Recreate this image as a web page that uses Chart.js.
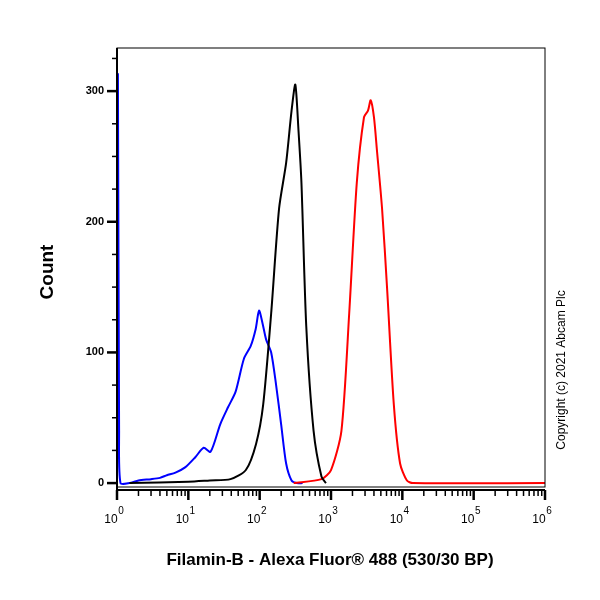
<!DOCTYPE html>
<html><head><script src="https://cdn.jsdelivr.net/npm/chart.js"></script>
<style>body{margin:0;background:#fff}#w{width:600px;height:600px}</style></head>
<body><div id="w"><canvas id="c"></canvas></div>
<script>
const blueX=[1.0,1.03,1.07,1.12,1.5,2,3,4,5,6.6,9,12.6,16.4,20.5,28,36,46,60,75,88,98,110,123,145,170,200,235,280,330,400];
const blueY=[0,313,40,0,0,2,3,4,6,8,12,20,27,24,45,58,70,95,105,118,132,122,110,100,75,45,15,2,0,0];
const blackX=[1.5,10,20,39,64,89,112,145,187,235,280,316,350,385,450,570,735,850];
const blackY=[0,1,2,3,10,30,60,130,210,245,285,305,270,230,120,40,5,0];
const redX=[300,735,1000,1400,1800,2300,2900,3300,3600,4000,4400,5200,6100,7600,9300,11600,14000,1e6];
const redY=[0,3,10,40,130,230,280,285,293,280,255,210,150,60,15,2,0,0];
const xTicks=[1,10,100,1000,10000,100000,1000000];
const yTicks=[0,100,200,300];
const pts=(xs,ys)=>xs.map((x,i)=>({x,y:ys[i]}));
const ds=(xs,ys,c)=>({data:pts(xs,ys),borderColor:c,borderWidth:2,pointRadius:0,showLine:true,tension:0.25,fill:false});
const deco={id:'deco',afterDraw(ch){
 const c=ch.ctx,a=ch.chartArea,xs=ch.scales.x,ys=ch.scales.y;
 c.save();c.strokeStyle='#000';c.lineWidth=1;c.strokeRect(a.left,a.top,a.right-a.left,a.bottom-a.top);
 c.lineWidth=2;c.beginPath();c.moveTo(a.left,a.top);c.lineTo(a.left,a.bottom+3);c.lineTo(a.right,a.bottom+3);c.stroke();
 c.fillStyle='#000';c.font='bold 11px Arial, Liberation Sans';c.textAlign='right';c.textBaseline='middle';
 for(let v=0;v<=325;v+=25){const y=ys.getPixelForValue(v);const maj=v%100==0;
  c.lineWidth=maj?2.5:1.5;c.beginPath();c.moveTo(a.left-(maj?10:5),y);c.lineTo(a.left,y);c.stroke();
  if(maj)c.fillText(String(yTicks[v/100]),a.left-13,y);}
 for(let d=0;d<6;d++)for(let m=1;m<10;m++){const x=xs.getPixelForValue(Math.pow(10,d)*m);
  c.lineWidth=m==1?2.5:1.5;c.beginPath();c.moveTo(x,a.bottom+3);c.lineTo(x,a.bottom+3+(m==1?10:6));c.stroke();}
 {const x=xs.getPixelForValue(1e6);c.lineWidth=2.5;c.beginPath();c.moveTo(x,a.bottom+3);c.lineTo(x,a.bottom+13);c.stroke();}
 c.textAlign='center';
 xTicks.forEach((v,i)=>{const x=xs.getPixelForValue(v);c.font='12px Arial, Liberation Sans';c.fillText('10',x-6,a.bottom+33);
  c.font='10px Arial, Liberation Sans';c.fillText(String(i),x+4,a.bottom+24);});
 c.font='bold 17px Arial, Liberation Sans';c.fillText('Filamin-B - Alexa Fluor® 488 (530/30 BP)',330,560);
 c.save();c.translate(48,272);c.rotate(-Math.PI/2);c.font='bold 19px Arial, Liberation Sans';c.fillText('Count',0,0);c.restore();
 c.save();c.translate(562,370);c.rotate(-Math.PI/2);c.font='12px Arial, Liberation Sans';c.fillText('Copyright (c) 2021 Abcam Plc',0,0);c.restore();
 c.restore();}};
new Chart(document.getElementById('c'),{type:'scatter',
 data:{datasets:[ds(blackX,blackY,'#000'),ds(redX,redY,'#ff0000'),ds(blueX,blueY,'#0000ff')]},
 options:{responsive:true,maintainAspectRatio:false,animation:false,layout:{padding:{left:117,right:55,top:48,bottom:113}},
  plugins:{legend:{display:false},tooltip:{enabled:false}},
  scales:{x:{type:'logarithmic',min:1,max:1e6,display:false},y:{min:-3,max:333,display:false}}},
 plugins:[deco]});
</script></body></html>
